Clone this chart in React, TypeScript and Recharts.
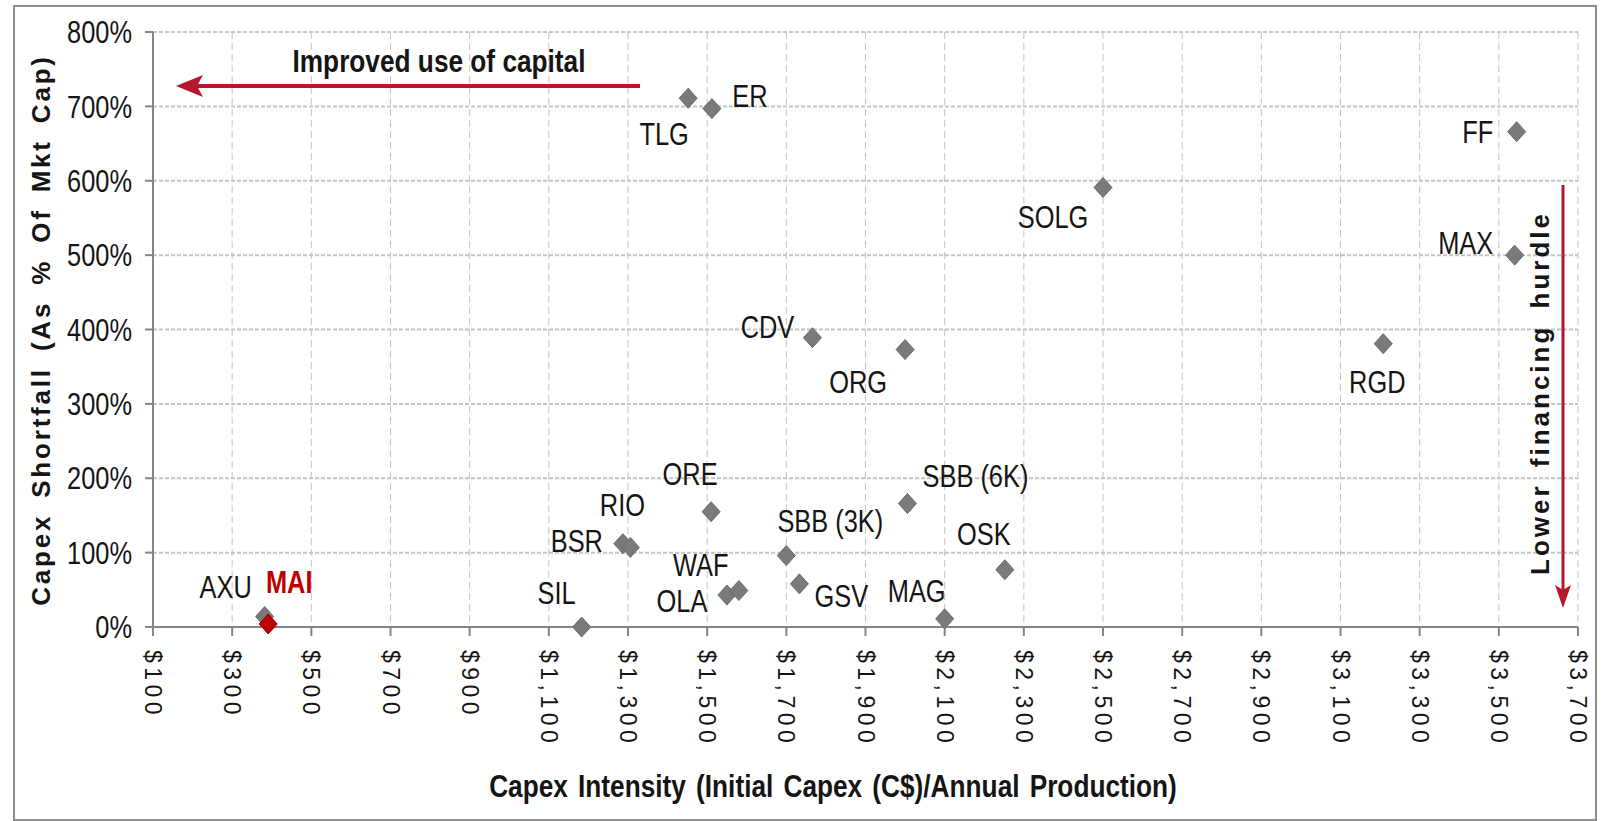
import React from "react";
import { ScatterChart, Scatter, XAxis, YAxis, CartesianGrid } from "recharts";

// peer companies: capex intensity (C$ per unit of annual production) vs capex shortfall (% of mkt cap)
const peerNames = [
  "AXU", "SIL", "BSR", "RIO", "ORE", "OLA", "WAF", "SBB (3K)", "GSV", "CDV", "ORG",
  "SBB (6K)", "MAG", "OSK", "TLG", "ER", "SOLG", "RGD", "FF", "MAX",
];
const peerCapexIntensity = [
  382, 1183, 1287, 1306, 1510, 1550, 1580, 1700, 1733, 1766, 2000,
  2006, 2100, 2252, 1452, 1512, 2500, 3208, 3545, 3540,
];
const peerCapexShortfall = [
  14, 0, 112, 107, 155, 43, 49, 96, 58, 389, 373,
  166, 11, 77, 711, 697, 591, 381, 666, 500,
];

// highlighted company
const highlightNames = ["MAI"];
const highlightCapexIntensity = [391];
const highlightCapexShortfall = [4];

const xTicks = [100, 300, 500, 700, 900, 1100, 1300, 1500, 1700, 1900, 2100, 2300, 2500, 2700, 2900, 3100, 3300, 3500, 3700];
const yTicks = [0, 100, 200, 300, 400, 500, 600, 700, 800];

// label placement relative to each marker (px)
const labelOffsets: Record<string, [number, number]> = {
  AXU: [-39, -30],
  MAI: [21, -42],
  SIL: [-25, -34],
  BSR: [-46, -3],
  RIO: [-8, -42],
  ORE: [-21, -38],
  OLA: [-45, 6],
  WAF: [-38, -25],
  "SBB (3K)": [44, -35],
  GSV: [42, 12],
  CDV: [-45, -11],
  ORG: [-47, 32],
  "SBB (6K)": [68, -27],
  MAG: [-28, -28],
  OSK: [-21, -36],
  TLG: [-24, 36],
  ER: [38, -13],
  SOLG: [-50, 30],
  RGD: [-6, 38],
  FF: [-39, 0],
  MAX: [-49, -12],
};

const peerData = peerNames.map((name, i) => ({
  name,
  x: peerCapexIntensity[i],
  y: peerCapexShortfall[i],
}));
const highlightData = highlightNames.map((name, i) => ({
  name,
  x: highlightCapexIntensity[i],
  y: highlightCapexShortfall[i],
}));

const SANS = "'Liberation Sans', Arial, sans-serif";
const TEXT = "#151515";
const RED = "#b5172b";
const SQUEEZE = 0.82; // no narrow font installed, so squeeze Arial-like text

const formatDollar = (v: number) => "$" + v.toLocaleString("en-US");

// condensed text, drawn around (x, y)
const NarrowText = ({ x, y, children, ...rest }: any) => (
  <text transform={`translate(${x},${y}) scale(${SQUEEZE},1)`} fontFamily={SANS} {...rest}>
    {children}
  </text>
);

const makeMarker = (fill: string, stroke: string, labelColor: string, bold: boolean) => (props: any) => {
  const { cx, cy, payload } = props;
  if (cx == null || cy == null) return <g />;
  const off = labelOffsets[payload.name] || [0, -30];
  return (
    <g>
      <polygon
        points={`${cx},${cy - 10} ${cx + 9},${cy} ${cx},${cy + 10} ${cx - 9},${cy}`}
        fill={fill}
        stroke={stroke}
        strokeWidth={1}
      />
      <NarrowText
        x={cx + off[0]}
        y={cy + off[1]}
        textAnchor="middle"
        dominantBaseline="central"
        fontSize={31}
        fontWeight={bold ? 700 : 400}
        fill={labelColor}
      >
        {payload.name}
      </NarrowText>
    </g>
  );
};

const PeerMarker = makeMarker("#7a7a7a", "#6a6a6a", TEXT, false);
const HighlightMarker = makeMarker("#c00000", "#8c0000", "#c00000", true);

const XTick = (props: any) => {
  const { x, y, payload } = props;
  return (
    <text
      transform={`translate(${x},${y}) rotate(90)`}
      textAnchor="start"
      dominantBaseline="central"
      fontFamily={SANS}
      fontSize={23}
      letterSpacing={4.5}
      fill={TEXT}
    >
      {formatDollar(payload.value)}
    </text>
  );
};

const YTick = (props: any) => {
  const { x, y, payload } = props;
  return (
    <NarrowText x={x} y={y} dy="0.36em" textAnchor="end" fontSize={31} fill={TEXT}>
      {payload.value}%
    </NarrowText>
  );
};

export default function App() {
  return (
    <div style={{ position: "absolute", left: 0, top: 0, width: 1608, height: 821, background: "#fff" }}>
      <div
        style={{
          position: "absolute",
          left: 13,
          top: 5,
          width: 1580,
          height: 812,
          border: "2px solid #8e8e8e",
        }}
      />
      <ScatterChart
        width={1608}
        height={821}
        margin={{ top: 32, right: 30, left: 93, bottom: 94 }}
        style={{ position: "absolute", left: 0, top: 0 }}
      >
        {/* horizontal grid: dense dashes */}
        <CartesianGrid
          vertical={false}
          stroke="#c4c4c4"
          strokeWidth={2}
          strokeDasharray="4 2"
          horizontalValues={yTicks}
        />
        {/* vertical grid: longer dashes */}
        <CartesianGrid
          horizontal={false}
          stroke="#c4c4c4"
          strokeWidth={1}
          strokeDasharray="7 4"
          verticalValues={xTicks}
        />
        <XAxis
          type="number"
          dataKey="x"
          domain={[100, 3700]}
          ticks={xTicks}
          interval={0}
          height={100}
          tickSize={9}
          tickMargin={14}
          axisLine={{ stroke: "#858585", strokeWidth: 2 }}
          tickLine={{ stroke: "#858585", strokeWidth: 2 }}
          tick={<XTick />}
        />
        <YAxis
          type="number"
          dataKey="y"
          domain={[0, 800]}
          ticks={yTicks}
          interval={0}
          width={60}
          tickSize={8}
          tickMargin={13}
          axisLine={{ stroke: "#858585", strokeWidth: 2 }}
          tickLine={{ stroke: "#858585", strokeWidth: 2 }}
          tick={<YTick />}
        />
        <Scatter data={peerData} shape={PeerMarker} isAnimationActive={false} />
        <Scatter data={highlightData} shape={HighlightMarker} isAnimationActive={false} />
      </ScatterChart>

      {/* titles and annotations */}
      <svg
        width={1608}
        height={821}
        style={{ position: "absolute", left: 0, top: 0, pointerEvents: "none" }}
      >
        <text
          transform="translate(41,330) rotate(-90)"
          textAnchor="middle"
          dominantBaseline="central"
          fontFamily={SANS}
          fontWeight={700}
          fontSize={26}
          letterSpacing={2.8}
          wordSpacing={6}
          fill={TEXT}
        >
          Capex Shortfall (As % Of Mkt Cap)
        </text>
        <NarrowText
          x={833}
          y={786}
          textAnchor="middle"
          dominantBaseline="central"
          fontWeight={700}
          fontSize={32}
          wordSpacing={3.5}
          fill={TEXT}
        >
          Capex Intensity (Initial Capex (C$)/Annual Production)
        </NarrowText>
        <NarrowText
          x={439}
          y={61}
          textAnchor="middle"
          dominantBaseline="central"
          fontWeight={700}
          fontSize={32}
          fill={TEXT}
        >
          Improved use of capital
        </NarrowText>
        <text
          transform="translate(1540,393) rotate(-90)"
          textAnchor="middle"
          dominantBaseline="central"
          fontFamily={SANS}
          fontWeight={700}
          fontSize={26}
          letterSpacing={3}
          wordSpacing={6}
          fill={TEXT}
        >
          Lower financing hurdle
        </text>
        {/* left arrow */}
        <line x1={640} y1={86} x2={195} y2={86} stroke={RED} strokeWidth={4} />
        <polygon points="176,86 203,75 197,86 203,97" fill={RED} />
        {/* down arrow */}
        <line x1={1563} y1={185} x2={1563} y2={592} stroke={RED} strokeWidth={3} />
        <polygon points="1563,608 1555,585 1563,590 1571,585" fill={RED} />
      </svg>
    </div>
  );
}
